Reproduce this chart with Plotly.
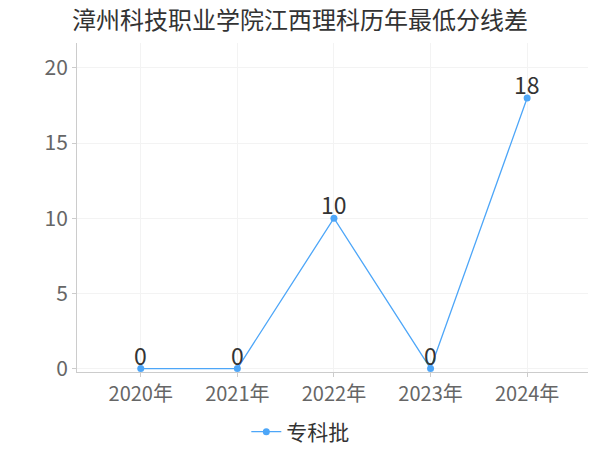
import plotly.graph_objects as go

# data
years = ["2020年", "2021年", "2022年", "2023年", "2024年"]
diff_zhuanke = [0, 0, 10, 0, 18]
series_name = "专科批"
title_text = "漳州科技职业学院江西理科历年最低分线差"

FONT = "Noto Sans CJK SC, Microsoft YaHei, sans-serif"
BLUE = "#4da6f8"

# the page body keeps its default 8px margin, so the figure is drawn
# 8px smaller and everything is laid out 8px up/left of the reference
W, H = 592, 442

fig = go.Figure()
fig.add_trace(go.Scatter(
    x=years,
    y=diff_zhuanke,
    name=series_name,
    mode="lines+markers",
    line=dict(color=BLUE, width=1.3),
    marker=dict(color=BLUE, size=7),
    cliponaxis=False,
))

# value labels sitting right on top of each point
for yr, v in zip(years, diff_zhuanke):
    fig.add_annotation(
        x=yr, y=v, text=str(v),
        showarrow=False,
        yanchor="bottom",
        yshift=-5,
        font=dict(family=FONT, size=23, color="#333333"),
    )

fig.update_layout(
    width=W,
    height=H,
    margin=dict(l=69, r=12, t=35, b=78, autoexpand=False),
    paper_bgcolor="white",
    plot_bgcolor="white",
    font=dict(family=FONT, color="#666666"),
    title=dict(
        text=title_text,
        x=292 / W,
        xanchor="center",
        y=1 - 13 / H,
        yref="container",
        yanchor="middle",
        font=dict(family=FONT, size=24, color="#333333"),
    ),
    showlegend=True,
    legend=dict(
        orientation="h",
        x=0.437,
        xanchor="center",
        y=-0.12,
        yanchor="top",
        font=dict(family=FONT, size=21, color="#333333"),
    ),
    xaxis=dict(
        type="category",
        range=[-0.66, 4.63],
        automargin=False,
        showline=True,
        linecolor="#cccccc",
        linewidth=1,
        showgrid=True,
        gridcolor="#f3f3f3",
        ticks="outside",
        ticklen=4,
        tickcolor="#cccccc",
        tickfont=dict(family=FONT, size=20, color="#666666"),
        zeroline=False,
        fixedrange=True,
    ),
    yaxis=dict(
        range=[-0.23, 21.66],
        tickvals=[0, 5, 10, 15, 20],
        automargin=False,
        showline=True,
        linecolor="#cccccc",
        linewidth=1,
        showgrid=True,
        gridcolor="#f3f3f3",
        ticks="outside",
        ticklen=4,
        tickcolor="#cccccc",
        tickfont=dict(family=FONT, size=21, color="#666666"),
        zeroline=False,
        fixedrange=True,
    ),
)

fig.write_html("out.html")
